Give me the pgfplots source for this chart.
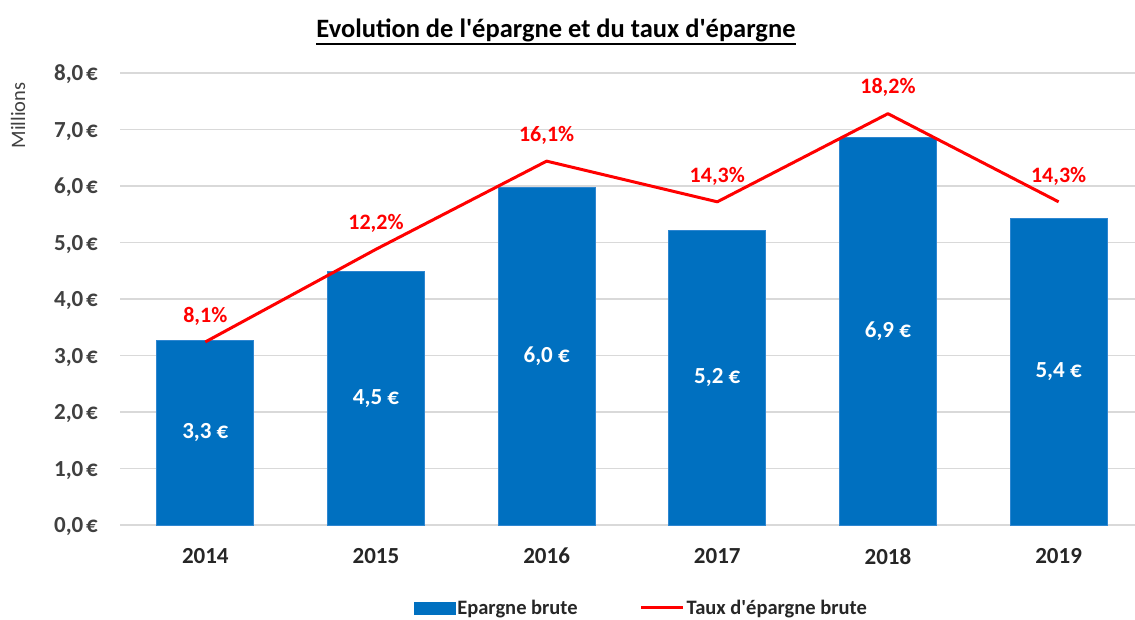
\documentclass[border=0pt]{standalone}
\usepackage{pgfplots}
\pgfplotsset{compat=1.18}
\usepackage{fontspec}
\setmainfont{Carlito}[Ligatures=TeXOff]
\definecolor{barblue}{HTML}{0070C0}
\definecolor{baredge}{HTML}{2E86D0}
\definecolor{gridgray}{HTML}{D9D9D9}
\definecolor{ticky}{HTML}{404040}
\definecolor{tickx}{HTML}{262626}
\definecolor{linered}{HTML}{FF0000}
\pgfplotsset{/pgf/number format/assume math mode=true,
  barleg/.style={legend image code/.code={\fill[barblue] (0pt,-6pt) rectangle (41pt,6pt);}},
  lineleg/.style={legend image code/.code={\draw[linered, line width=3pt] (0pt,0pt) -- (42pt,0pt);}}}
\begin{document}
\begin{tikzpicture}[x=1pt,y=1pt]
\useasboundingbox (0,0) rectangle (1135,619);
\begin{axis}[
  at={(120pt,94pt)}, anchor=south west,
  scale only axis, width=1024pt, height=452pt,
  xmin=-0.5, xmax=5.5, ymin=0, ymax=8,
  ybar, bar width=97pt,
  xtick={0,...,5}, xticklabels={2014,2015,2016,2017,2018,2019},
  ytick={0,1,...,8},
  yticklabel={\pgfmathprintnumber[fixed,fixed zerofill,precision=1,use comma]{\tick}\kern0.12em€},
  ymajorgrids, grid style={gridgray, line width=1.5pt},
  axis line style={draw=none},
  major tick length=0pt,
  tick label style={font=\fontsize{23}{26}\selectfont\bfseries},
  yticklabel style={color=ticky, inner sep=0pt, xshift=-22pt, text depth=0pt},
  xticklabel style={color=tickx, inner sep=0pt, yshift=-23pt},
  legend columns=2,
  legend style={at={(0.509,-0.1836)}, anchor=center, draw=none, fill=none,
    font=\fontsize{20.5}{24}\selectfont\bfseries, text=tickx,
    /tikz/every even column/.append style={column sep=60pt},
    nodes={inner sep=2pt}},
  legend cell align=left,
  visualization depends on={rawy \as \rawy},
  nodes near coords={\pgfmathprintnumber[fixed,fixed zerofill,precision=1,use comma]{\pgfplotspointmeta} €},
  nodes near coords style={font=\fontsize{23}{26}\selectfont\bfseries, text=white, anchor=center, yshift={-28.25*\rawy}},
]
\addplot[fill=barblue, draw=baredge, line width=0.8pt, barleg]
  coordinates {(0,3.26) (1,4.49) (2,5.98) (3,5.21) (4,6.86) (5,5.43)};
\addlegendentry{Epargne brute}
\addlegendimage{lineleg}
\addlegendentry{Taux d'épargne brute}
\end{axis}
\begin{axis}[
  at={(120pt,94pt)}, anchor=south west,
  scale only axis, width=1024pt, height=452pt,
  xmin=-0.5, xmax=5.5, ymin=0, ymax=20,
  hide axis, clip=false,
]
\addplot[linered, line width=3pt, line join=round, mark=none,
  nodes near coords={\pgfmathprintnumber[fixed,fixed zerofill,precision=1,use comma]{\pgfplotspointmeta}\%},
  nodes near coords style={font=\fontsize{22}{25}\selectfont\bfseries, text=linered, anchor=south, yshift=12pt}]
  coordinates {(0,8.1) (1,12.2) (2,16.1) (3,14.3) (4,18.2) (5,14.3)};
\end{axis}
\node[anchor=base, inner sep=0pt, font=\fontsize{26.5}{30}\selectfont\bfseries] (t) at (556,581) {Evolution de l'épargne et du taux d'épargne};
\draw[line width=2.3pt] ([yshift=-6pt]t.base west) -- ([yshift=-6pt]t.base east);
\node[rotate=90, font=\fontsize{20.5}{24}\selectfont, text=ticky] at (18,503.5) {Millions};
\end{tikzpicture}
\end{document}
